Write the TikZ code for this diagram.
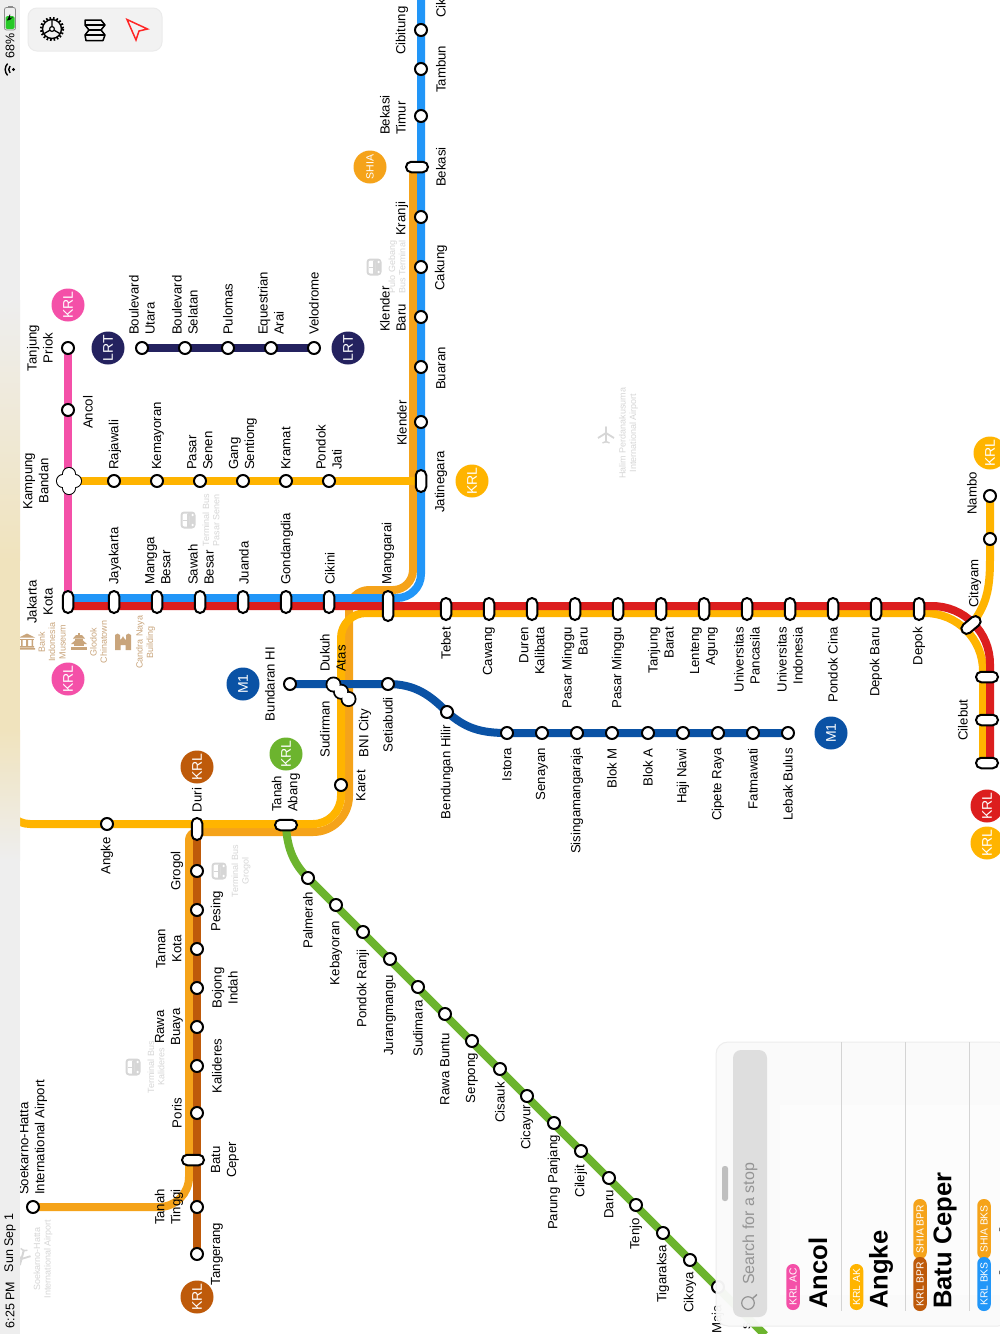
\documentclass[tikz,border=0pt]{standalone}
\usepackage{fontspec}
\setmainfont{Liberation Sans}
\usetikzlibrary{calc}
\definecolor{cpink}{HTML}{F450A8}
\definecolor{cyel}{HTML}{FFB400}
\definecolor{cora}{HTML}{F5A31A}
\definecolor{cblue}{HTML}{2196F8}
\definecolor{cred}{HTML}{DC1E1E}
\definecolor{cbrown}{HTML}{BE5A0A}
\definecolor{cgreen}{HTML}{6CB42E}
\definecolor{cnavy}{HTML}{24225F}
\definecolor{cmone}{HTML}{0A52A5}
\definecolor{cpoi}{HTML}{C9A57C}
\definecolor{cgry}{HTML}{D6D6D6}
\definecolor{cbeige}{HTML}{F0E3BD}
\definecolor{cbar}{HTML}{EEEEEE}
\pgfdeclarelayer{lines}
\pgfsetlayers{lines,main}
\tikzset{
  railway/.style={line width=8pt,line cap=butt,line join=round},
  stnode/.style={circle,draw=black,fill=white,line width=2pt,minimum size=12pt,inner sep=0pt},
  pillv/.style={rectangle,draw=black,fill=white,line width=2pt,minimum width=10.5pt,minimum height=22pt,inner sep=0pt,rounded corners=5.2pt},
  pillh/.style={pillv,minimum width=22pt,minimum height=10.5pt},
  lobeb/.style={circle,fill=black,minimum size=16pt,inner sep=0pt},
  lobew/.style={circle,fill=white,minimum size=12.3pt,inner sep=0pt},
  lbl/.style={rotate=90,inner sep=0pt,text=black,font=\fontsize{13.2}{16}\selectfont},
  poilbl/.style={rotate=90,inner sep=0pt,align=center,font=\fontsize{9}{10.4}\selectfont},
  badge/.style={circle,minimum size=33pt,inner sep=0pt,text=white,font=\fontsize{14}{16}\selectfont},
  tag/.style={rectangle,rounded corners=6.5pt,minimum height=13.5pt,inner sep=0pt,text=white,font=\fontsize{10.3}{11}\selectfont},
  ttl/.style={rotate=90,inner sep=0pt,anchor=west,font=\fontsize{25.6}{28}\bfseries\selectfont}
}
\newcounter{lb}
\newcommand{\labc}[3]{\stepcounter{lb}\node[lbl,align=center] (lb\thelb) at (#1,#2) {#3};}
\newcommand{\labb}[3]{\stepcounter{lb}\node[lbl,anchor=west,align=left] (lb\thelb) at (#1,#2) {#3};}
\newcommand{\labt}[3]{\stepcounter{lb}\node[lbl,anchor=east,align=right] (lb\thelb) at (#1,#2) {#3};}
\newcommand{\stn}[3]{\node[stnode] (#1) at (#2,#3) {};}
\newcommand{\pv}[3]{\node[pillv] (#1) at (#2,#3) {};}
\newcommand{\ph}[3]{\node[pillh] (#1) at (#2,#3) {};}
\newcommand{\bdg}[5]{\node[badge,fill=#4,rotate=90] (#1) at (#2,#3) {#5};}
\newcommand{\busico}[2]{\begin{scope}[shift={(#1,#2)}]
  \fill[cgry,rounded corners=3.5pt] (-7.5,-8.5) rectangle (7.5,8.5);
  \fill[white,rounded corners=2pt] (-5.5,-6.5) rectangle (1,6.5);
  \fill[white] (4.6,-5) circle (1.3) (4.6,5) circle (1.3);
  \fill[cgry] (-0.8,-6.5) rectangle (0.6,6.5);
  \fill[cgry] (-5.5,-0.5) rectangle (1,0.5);
\end{scope}}
\newcommand{\planeico}[3]{\begin{scope}[shift={(#1,#2)},rotate=#3]
  \draw[cgry,line width=2pt,line cap=round] (0,-8) -- (0,7);
  \draw[cgry,line width=1.8pt,line join=round] (-8,3) -- (0,-2) -- (8,3);
  \draw[cgry,line width=1.4pt] (-3.5,8) -- (0,6.5) -- (3.5,8);
\end{scope}}
\begin{document}
\begin{tikzpicture}[x=1pt,y=-1pt]
\useasboundingbox (0,0) rectangle (1000,1334);
\clip (0,0) rectangle (1000,1334);

% ---------- stations
\stn{tp}{68}{348}\stn{ancol}{68}{410}
\foreach \n/\x in {rajawali/114,kemayoran/157,senen/200,gang/243,kramat/286,pjati/329}{\stn{\n}{\x}{481}}
\pv{jat}{421}{481}
% LRT
\foreach \n/\x in {butara/142,bselatan/185,pulomas/228,equest/271,velo/314}{\stn{\n}{\x}{348}}
% Bekasi line
\foreach \n/\y in {cibitung/30,tambun/69,btimur/116,kranji/217,cakung/267,kbaru/317,buaran/367,klender/422}{\stn{\n}{421}{\y}}
\ph{bekasi}{417}{167}
% central
\foreach \n/\x in {kota/68,jayakarta/114,mangga/157,sawah/200,juanda/243,gondangdia/286,cikini/329}{\pv{\n}{\x}{602}}
\node[pillv,minimum height=30pt] (manggarai) at (388,606) {};
\foreach \n/\x in {tebet/446,cawang/489,duren/532,pmb/575,pm/618,tanjungb/661,lenteng/704,upanc/747,ui/790,pcina/833,dbaru/876,depok/919}{\pv{\n}{\x}{609}}
\node[pillv,rotate=-50] (citayam) at (971,625) {};
\foreach \n/\y in {cb1/677,cilebut/720,cb3/763}{\ph{\n}{987}{\y}}
\stn{nambo}{990}{496}\stn{nb2}{990}{539}
% M1
\stn{bhi}{290}{684}\stn{setia}{388}{684}\stn{bend}{447}{712}
\foreach \n/\x in {istora/507,senayan/542,sisinga/577,blokm/612,bloka/648,haji/683,cipete/718,fatma/753,lebak/788}{\stn{\n}{\x}{733}}
% Dukuh Atas / Sudirman
\node[lobeb] (dukuh) at (333.5,684.5) {};
\node[lobeb] (dmid) at (341,691.7) {};
\node[lobeb] (sudir) at (348.5,699) {};
\node[lobew] (dukuhw) at (333.5,684.5) {};
\node[lobew] (dmidw) at (341,691.7) {};
\node[lobew] (sudirw) at (348.5,699) {};
\stn{karet}{341}{785}
% Tanah Abang etc
\stn{angke}{107}{824}
\pv{duri}{197}{829}
\ph{tabang}{286}{825}
\foreach \n/\y in {grogol/871,pesing/910,tkota/949,bojong/988,rawab/1027,kalideres/1066,poris/1113,ttinggi/1207,tangerang/1254}{\stn{\n}{197}{\y}}
\ph{bceper}{193}{1160}
\stn{soetta}{33}{1207}
% Green
\foreach \n/\x/\y in {palmerah/308/878,kebayoran/336/905,pranji/363/932,jurang/390/959,sudimara/418/987,rbuntu/445/1014,serpong/472/1041,cisauk/500/1069,cicayur/527/1096,parung/554/1123,cilejit/581/1151,daru/609/1178,tenjo/636/1205,tigaraksa/663/1233,cikoya/690/1260,maja/718/1287}{\stn{\n}{\x}{\y}}
% Kampung Bandan cross
\node[pillv,minimum width=12pt,minimum height=26pt,rounded corners=6pt,fill=black] (kbv) at (69,481) {};
\node[pillh,minimum height=12pt,minimum width=24pt,rounded corners=6pt,fill=black] (kbh) at (69,481) {};
\node[rectangle,fill=white,minimum width=12pt,minimum height=26pt,inner sep=0pt,rounded corners=6pt] (kbvw) at (69,481) {};
\node[rectangle,fill=white,minimum width=24pt,minimum height=12pt,inner sep=0pt,rounded corners=6pt] (kbhw) at (69,481) {};

% ---------- lines (below all stations)
\begin{pgfonlayer}{lines}
\fill[white] (0,0) rectangle (1000,1334);
\coordinate (oT) at (413,167); \coordinate (oA) at (413,590); \coordinate (oB) at (349,590);
\coordinate (oC) at (349,832); \coordinate (oD) at (189,832); \coordinate (oE) at (189,1207);
\coordinate (yS) at (983,763); \coordinate (yA) at (983,613); \coordinate (yB) at (341,613);
\coordinate (yC) at (341,824); \coordinate (yD) at (5,824); \coordinate (yE) at (5,700);
\coordinate (bT) at (421,-5); \coordinate (bA) at (421,598); \coordinate (bB) at (68,598);
\coordinate (rL) at (68,606); \coordinate (rA) at (990,606); \coordinate (rB) at (990,763);
\coordinate (brT) at (197,832);
\coordinate (gE) at (765,1335);
% orange SHIA
\draw[railway,cora,rounded corners=20pt] (oT) -- (oA) -- (oB) -- (349,640)
   [rounded corners=36pt] -- (oC) -- (240,832) [rounded corners=8pt] -- (oD) -- (189,1100)
   [rounded corners=30pt] -- (oE) -- (soetta.center);
% brown
\draw[railway,cbrown] (brT) -- (tangerang.center);
% pink
\draw[railway,cpink] (tp.center) -- (kota.center);
% yellow Kampung Bandan - Jatinegara
\draw[railway,cyel] (kbv.center) -- (jat.center);
% yellow Bogor/Duri loop
\draw[railway,cyel,rounded corners=58pt] (yS) -- (yA) -- (700,613) [rounded corners=25pt] -- (yB) -- (341,700)
   [rounded corners=28pt] -- (yC) -- (100,824) [rounded corners=25pt] -- (yD) -- (yE);
% blue
\draw[railway,cblue,rounded corners=24pt] (bT) -- (bA) -- (bB);
% red
\draw[railway,cred,rounded corners=58pt] (rL) -- (rA) -- (rB);
% Nambo branch
\draw[railway,cyel] (nambo.center) -- (nb2.center) -- (990,560) .. controls (990,590) and (986,606) .. (citayam.center);
% LRT
\draw[railway,cnavy] (butara.center) -- (velo.center);
% M1
\draw[railway,cmone] (bhi.center) -- (setia.center) .. controls (415,684) and (430,695) .. (bend.center) .. controls (465,728) and (480,733) .. (istora.center) -- (lebak.center);
% green
\draw[railway,cgreen] (tabang.center) .. controls (287,850) and (295,865) .. (palmerah.center) -- (gE);
\end{pgfonlayer}

% ---------- badges
\bdg{b1}{68}{305}{cpink}{KRL}
\bdg{b2}{108}{348}{cnavy}{LRT}
\bdg{b3}{348}{348}{cnavy}{LRT}
\bdg{b4}{68}{679}{cpink}{KRL}
\bdg{b5}{243}{684}{cmone}{M1}
\bdg{b6}{197}{767}{cbrown}{KRL}
\bdg{b7}{286}{754}{cgreen}{KRL}
\bdg{b8}{472}{481}{cyel}{KRL}
\node[badge,fill=cora,rotate=90,font=\fontsize{10.5}{12}\selectfont] (b9) at (370,167) {SHIA};
\bdg{b10}{831}{733}{cmone}{M1}
\bdg{b11}{990}{453}{cyel}{KRL}
\bdg{b12}{987}{843}{cyel}{KRL}
\bdg{b13}{987}{806}{cred}{KRL}
\bdg{b14}{197}{1297}{cbrown}{KRL}

% ---------- labels
\labc{40}{348}{Tanjung\\Priok}
\labb{88}{429}{Ancol}
\labc{36}{481}{Kampung\\Bandan}
\labb{115}{470}{Rajawali}
\labb{158}{470}{Kemayoran}
\labb{200}{470}{Pasar\\Senen}
\labb{243}{470}{Gang\\Sentiong}
\labb{286}{470}{Kramat}
\labb{329}{470}{Pondok\\Jati}
\labb{142}{335}{Boulevard\\Utara}
\labb{185}{335}{Boulevard\\Selatan}
\labb{228}{335}{Pulomas}
\labb{271}{335}{Equestrian\\Arai}
\labb{314}{335}{Velodrome}
\labb{402}{55}{Cibitung}
\labb{441}{93}{Tambun}
\labb{393}{135}{Bekasi\\Timur}
\labb{441}{187}{Bekasi}
\labb{402}{236}{Kranji}
\labb{441}{291}{Cakung}
\labb{393}{332}{Klender\\Baru}
\labb{441}{390}{Buaran}
\labb{402}{446}{Klender}
\labb{441}{513}{Jatinegara}
\labb{441}{18}{Cik}
\labc{40}{602}{Jakarta\\Kota}
\labb{115}{585}{Jayakarta}
\labb{158}{585}{Mangga\\Besar}
\labb{201}{585}{Sawah\\Besar}
\labb{244}{585}{Juanda}
\labb{287}{585}{Gondangdia}
\labb{330}{585}{Cikini}
\labb{388}{585}{Manggarai}
\labt{446}{627}{Tebet}
\labt{489}{627}{Cawang}
\labt{532}{627}{Duren\\Kalibata}
\labt{575}{627}{Pasar Minggu\\Baru}
\labt{618}{627}{Pasar Minggu}
\labt{661}{627}{Tanjung\\Barat}
\labt{704}{627}{Lenteng\\Agung}
\labt{747}{627}{Universitas\\Pancasila}
\labt{790}{627}{Universitas\\Indonesia}
\labt{833}{627}{Pondok Cina}
\labt{876}{627}{Depok Baru}
\labt{919}{627}{Depok}
\labb{975}{608}{Citayam}
\labb{972}{515}{Nambo}
\labc{963}{720}{Cilebut}
\labc{270}{684}{Bundaran HI}
\labb{333}{672}{Dukuh\\Atas}
\labc{325}{729}{Sudirman}
\labc{365}{733}{BNI City}
\labt{388}{697}{Setiabudi}
\labt{447}{725}{Bendungan Hilir}
\labt{361}{770}{Karet}
\labt{507}{748}{Istora}
\labt{542}{748}{Senayan}
\labt{577}{748}{Sisingamangaraja}
\labt{612}{748}{Blok M}
\labt{648}{748}{Blok A}
\labt{683}{748}{Haji Nawi}
\labt{718}{748}{Cipete Raya}
\labt{753}{748}{Fatmawati}
\labt{788}{748}{Lebak Bulus}
\labt{107}{837}{Angke}
\labc{197}{800}{Duri}
\labb{286}{812}{Tanah\\Abang}
\labc{177}{871}{Grogol}
\labc{217}{911}{Pesing}
\labc{169}{949}{Taman\\Kota}
\labc{225}{988}{Bojong\\Indah}
\labc{169}{1027}{Rawa\\Buaya}
\labc{217}{1066}{Kalideres}
\labc{177}{1113}{Poris}
\labc{225}{1160}{Batu\\Ceper}
\labc{169}{1207}{Tanah\\Tinggi}
\labc{217}{1254}{Tangerang}
\labb{33}{1195}{Soekarno-Hatta\\International Airport}
\labt{308}{892}{Palmerah}
\labt{336}{921}{Kebayoran}
\labt{363}{949}{Pondok Ranji}
\labt{390}{975}{Jurangmangu}
\labt{418}{1000}{Sudimara}
\labt{445}{1033}{Rawa Buntu}
\labt{472}{1053}{Serpong}
\labt{500}{1082}{Cisauk}
\labt{527}{1105}{Cicayur}
\labt{554}{1135}{Parung Panjang}
\labt{581}{1165}{Cilejit}
\labt{609}{1190}{Daru}
\labt{636}{1218}{Tenjo}
\labt{663}{1245}{Tigaraksa}
\labt{690}{1272}{Cikoya}
\labt{718}{1305}{Maja}
\labt{747}{1323}{s}

% ---------- points of interest
\node[poilbl,text=cpoi] (poi1) at (52,642) {Bank\\Indonesia\\Museum};
\node[poilbl,text=cpoi] (poi2) at (98.5,642) {Glodok\\Chinatown};
\node[poilbl,text=cpoi] (poi3) at (145.5,642) {Candra Naya\\Building};
\node[poilbl,text=cgry] (poi4) at (211,520) {Terminal Bus\\Pasar Senen};
\node[poilbl,text=cgry] (poi5) at (241,871) {Terminal Bus\\Grogol};
\node[poilbl,text=cgry] (poi6) at (156,1067) {Terminal Bus\\Kalideres};
\node[poilbl,text=cgry] (poi7) at (397,267) {Pulo Gebang\\Bus Terminal};
\node[poilbl,text=cgry] (poi8) at (43,1259) {Soekarno-Hatta\\International Airport};
\node[poilbl,text=cgry] (poi9) at (628.5,433) {Halim Perdanakusuma\\International Airport};
\busico{188}{520}\busico{219}{871}\busico{133}{1067}\busico{374}{267}
\planeico{22}{1257}{165}\planeico{606}{435}{0}
% museum (upright)
\begin{scope}[shift={(27,642)},cpoi]
  \fill (-8,-4.5) -- (0,-8.5) -- (8,-4.5) -- cycle;
  \fill (-7,-3.5) rectangle (7,-2.5);
  \fill (-6,-2.5) rectangle (-4.5,4) (-1,-2.5) rectangle (1,4) (4.5,-2.5) rectangle (6,4);
  \fill (-7,4) rectangle (7,5.5) (-8,6) rectangle (8,7.5);
\end{scope}
% pagoda (upright)
\begin{scope}[shift={(79,642)},cpoi]
  \fill (-1,-9) rectangle (1,-7);
  \fill (-6,-3.5) -- (-3,-7) -- (3,-7) -- (6,-3.5) -- cycle;
  \fill (-4,-3.5) rectangle (4,-1.5);
  \fill (-8,2) -- (-4,-1.5) -- (4,-1.5) -- (8,2) -- cycle;
  \fill (-5,2) rectangle (5,4);
  \fill (-8,4.5) rectangle (8,7.5);
\end{scope}
% castle (upright)
\begin{scope}[shift={(123,642)},cpoi]
  \fill (-8,-7) -- (-5.5,-8.5) -- (-3,-7) -- (-3,-2) -- (-1,-4) -- (0,-6) -- (1,-4) -- (3,-2) -- (3,-7) -- (5.5,-8.5) -- (8,-7) -- (8,8) -- (2.5,8) -- (2.5,3) -- (-2.5,3) -- (-2.5,8) -- (-8,8) -- cycle;
\end{scope}

% ---------- status bar
\fill[cbar] (0,0) rectangle (20,300);
\shade[top color=cbar,bottom color=cbeige] (0,300) rectangle (20,560);
\fill[cbeige] (0,560) rectangle (20,730);
\shade[top color=cbeige,bottom color=cbar] (0,730) rectangle (20,860);
\fill[cbar] (0,860) rectangle (20,1334);
\node[rotate=90,inner sep=0pt,font=\fontsize{12.5}{14}\selectfont] (clock) at (10,1305) {6:25 PM};
\node[rotate=90,inner sep=0pt,font=\fontsize{12.5}{14}\selectfont] (datum) at (10,1243) {Sun Sep 1};
\node[rotate=90,inner sep=0pt,font=\fontsize{12.5}{14}\selectfont] (pct) at (10,46) {68\%};
\draw[black!45,line width=.8pt,rounded corners=2pt] (4.5,7.5) rectangle (15.5,30);
\fill[black!45] (7.5,5.5) rectangle (12.5,7.5);
\fill[green!75!black!85,rounded corners=1.5pt] (5.5,16) rectangle (14.5,29);
\fill[black] (10,14) -- (7,20.5) -- (10,19.8) -- (13,17) -- (10,18.2) -- cycle;
\fill (13.5,69.5) circle (1.6);
\draw[line width=1.4pt] (13.5,69.5) +(135:4.8) arc[start angle=135,end angle=225,radius=4.8];
\draw[line width=1.4pt] (13.5,69.5) +(135:8.3) arc[start angle=135,end angle=225,radius=8.3];

% ---------- toolbar
\draw[black!8,fill=black!5,line width=1pt,rounded corners=9pt] (28,8) rectangle (162,51);
\begin{scope}[shift={(52,29)}]
  \draw[black,line width=1.4pt] (0,0) circle (9.5);
  \draw[black,line width=2.4pt,dash pattern=on 1.6pt off 1.9pt] (0,0) circle (11);
  \draw[black,line width=1.3pt] (0,-9) -- (0,0) -- (7.8,4.5) (0,0) -- (-7.8,4.5);
  \fill[white] (0,0) circle (2.4); \draw[black,line width=1.2pt] (0,0) circle (2.4);
\end{scope}
\draw[black,line width=1.5pt,line join=round] (85,20) -- (101,20) -- (105,25) -- (101,30) -- (105,35) -- (103,40.5) -- (86,40.5) -- (85,35) -- (89,30) -- (85,25) -- cycle;
\draw[black,line width=1.5pt] (85,25) -- (105,25) (89,30) -- (101,30) (85,35) -- (105,35);
\draw[red!85!white,line width=1.5pt,line join=miter] (127,19.5) -- (147.5,29) -- (139,31) -- (136,40) -- cycle;

% ---------- stop list panel
\draw[black!7,fill=black!2,fill opacity=.96,rounded corners=12pt,line width=1pt] (716,1042) rectangle (1010,1326);
\fill[white,fill opacity=.4] (780,1105) rectangle (1000,1295);
\fill[black!13,rounded corners=8pt] (733,1050) rectangle (767,1317);
\fill[black!25,rounded corners=2.5pt] (722,1166) rectangle (728,1201);
\node[rotate=90,inner sep=0pt,anchor=west,text=black!42,font=\fontsize{16}{19}\selectfont] (search) at (750,1285) {Search for a stop};
\draw[black!42,line width=1.2pt] (748,1303) circle (6.3);
\draw[black!42,line width=1.4pt] (752.5,1298.5) -- (757,1294.5);
\foreach \n/\x in {d1/841.5,d2/905,d3/969}{\draw[black!17,line width=.8pt] (\x,1042) -- (\x,1311);}
\node[tag,fill=cpink,rotate=90,minimum width=46pt] (t1) at (793,1287) {KRL AC};
\node[ttl] (n1) at (818,1309) {Ancol};
\node[tag,fill=cyel,rotate=90,minimum width=46pt] (t2) at (856.5,1287) {KRL AK};
\node[ttl] (n2) at (881,1309) {Angke};
\node[tag,fill=cora,rotate=90,minimum width=60pt] (t4) at (920,1229) {SHIA BPR};
\node[tag,fill=cbrown,rotate=90,minimum width=54pt] (t3) at (920,1284) {KRL BPR};
\node[ttl] (n3) at (945,1309) {Batu Ceper};
\node[tag,fill=cora,rotate=90,minimum width=60pt] (t6) at (984,1229) {SHIA BKS};
\node[tag,fill=cblue,rotate=90,minimum width=54pt] (t5) at (984,1284) {KRL BKS};
\node[ttl] (n4) at (1009,1309) {Bekasi};
\end{tikzpicture}
\end{document}
